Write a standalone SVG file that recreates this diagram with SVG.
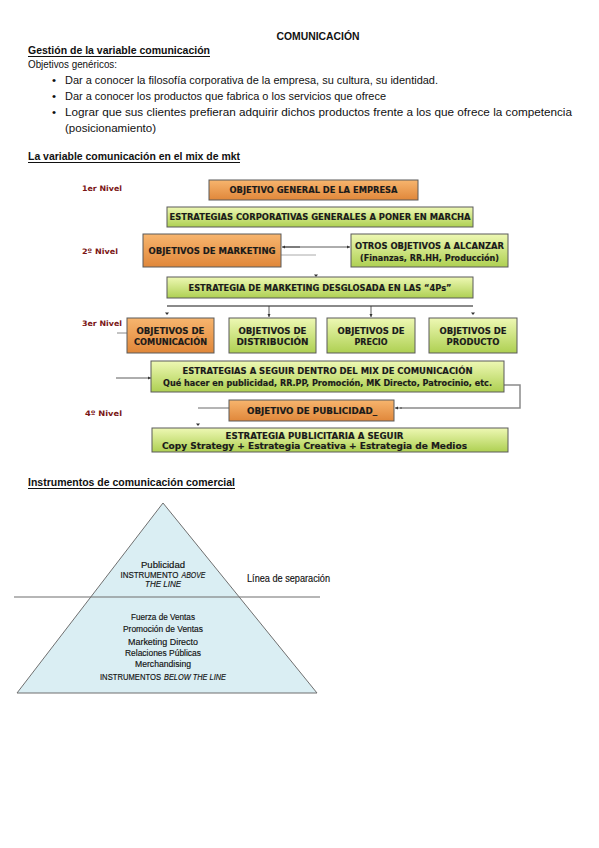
<svg xmlns="http://www.w3.org/2000/svg" width="599" height="848" viewBox="0 0 599 848">
<defs>
<linearGradient id="gO" x1="0" y1="0" x2="0" y2="1"><stop offset="0" stop-color="#f7b56e"/><stop offset="1" stop-color="#e0873a"/></linearGradient>
<linearGradient id="gG" x1="0" y1="0" x2="0" y2="1"><stop offset="0" stop-color="#eef8b4"/><stop offset="1" stop-color="#aed052"/></linearGradient>
<marker id="ah" viewBox="0 0 6 6" refX="6" refY="3" markerWidth="4" markerHeight="4" orient="auto"><path d="M0,0 L6,3 L0,6 z" fill="#333"/></marker>
</defs>
<style>
.t{font-family:"Liberation Sans",Arial,sans-serif;font-size:11.5px;fill:#111}
.b{font-weight:bold}
.bx{stroke:#5a5a5a;stroke-width:1}
.o{fill:url(#gO)}
.g{fill:url(#gG)}
.bt{font-family:"DejaVu Sans",Verdana,sans-serif;font-size:8px;font-weight:bold;fill:#1a1a1a;stroke:#1a1a1a;stroke-width:0.15;text-anchor:middle}
.lv{font-family:"DejaVu Sans",Verdana,sans-serif;font-size:7.5px;font-weight:bold;fill:#7a1515}
.ln{stroke:#333;stroke-width:0.8;fill:none}
.gl{stroke:#8a8a8a;stroke-width:1.5;fill:none}
.pt{font-family:"Liberation Sans",Arial,sans-serif;font-size:8.5px;fill:#111;stroke:#111;stroke-width:0.15;text-anchor:middle}
.ps{font-family:"Liberation Sans",Arial,sans-serif;font-size:8.5px;fill:#111;stroke:#111;stroke-width:0.15}
.i{font-style:italic}
</style>
<rect width="599" height="848" fill="#fff"/>
<g id="header">
<text class="t b" x="318" y="40" text-anchor="middle" textLength="83" lengthAdjust="spacingAndGlyphs">COMUNICACIÓN</text>
<text class="t b" x="28" y="54" textLength="182" lengthAdjust="spacingAndGlyphs">Gestión de la variable comunicación</text>
<line x1="28" y1="56.5" x2="210" y2="56.5" stroke="#111" stroke-width="1"/>
<text class="t" x="28" y="68" textLength="89" lengthAdjust="spacingAndGlyphs">Objetivos genéricos:</text>
<text class="t" x="52" y="84">•</text>
<text class="t" x="65" y="84" textLength="373" lengthAdjust="spacingAndGlyphs">Dar a conocer la filosofía corporativa de la empresa, su cultura, su identidad.</text>
<text class="t" x="52" y="100">•</text>
<text class="t" x="65" y="100" textLength="321" lengthAdjust="spacingAndGlyphs">Dar a conocer los productos que fabrica o los servicios que ofrece</text>
<text class="t" x="52" y="116">•</text>
<text class="t" x="65" y="116" textLength="507" lengthAdjust="spacingAndGlyphs">Lograr que sus clientes prefieran adquirir dichos productos frente a los que ofrece la competencia</text>
<text class="t" x="65" y="132" textLength="91" lengthAdjust="spacingAndGlyphs">(posicionamiento)</text>
<text class="t b" x="28" y="160" textLength="212" lengthAdjust="spacingAndGlyphs">La variable comunicación en el mix de mkt</text>
<line x1="28" y1="162.5" x2="240" y2="162.5" stroke="#111" stroke-width="1"/>
</g>
<g id="levels">
<text class="lv" x="82" y="191" textLength="40" lengthAdjust="spacingAndGlyphs">1er Nivel</text>
<text class="lv" x="82" y="254" textLength="36" lengthAdjust="spacingAndGlyphs">2º Nivel</text>
<text class="lv" x="82" y="326" textLength="40" lengthAdjust="spacingAndGlyphs">3er Nivel</text>
<text class="lv" x="85" y="416" textLength="37" lengthAdjust="spacingAndGlyphs">4º Nivel</text>
</g>
<g id="connectors">
<line class="ln" x1="284" y1="247" x2="350" y2="247" marker-end="url(#ah)"/>
<line class="ln" x1="300" y1="247" x2="282" y2="247" marker-end="url(#ah)"/>
<line x1="281" y1="255" x2="316" y2="255" stroke="#aaa" stroke-width="1"/>
<path d="M314,274.5 L318,274.5 L316,277 z" fill="#333"/>
<line x1="167" y1="306" x2="473" y2="306" stroke="#8a8a8a" stroke-width="2"/>
<line class="ln" x1="269" y1="306" x2="269" y2="317" marker-end="url(#ah)"/>
<line class="ln" x1="371" y1="306" x2="371" y2="317" marker-end="url(#ah)"/>
<path d="M165,312.5 L169,312.5 L167,315 z" fill="#333"/>
<path d="M471,312.5 L475,312.5 L473,315 z" fill="#333"/>
<line x1="117" y1="333" x2="127" y2="333" stroke="#888" stroke-width="1"/>
<line class="ln" x1="116" y1="378" x2="151" y2="378" marker-end="url(#ah)"/>
<polyline class="gl" points="504,385 520,385 520,408 400,408"/>
<line class="ln" x1="402" y1="408" x2="395" y2="408" marker-end="url(#ah)"/>
<line x1="198" y1="408" x2="229" y2="408" stroke="#444" stroke-width="0.8"/>
<path d="M196,423.5 L200,423.5 L198,426 z" fill="#333"/>
</g>
<g id="n1"><rect class="bx o" x="209" y="180" width="209" height="20"/><text class="bt" x="313.5" y="193" textLength="168" lengthAdjust="spacingAndGlyphs">OBJETIVO GENERAL DE LA EMPRESA</text></g>
<g id="n2"><rect class="bx g" x="167" y="207" width="306" height="20"/><text class="bt" x="320" y="220" textLength="301" lengthAdjust="spacingAndGlyphs">ESTRATEGIAS CORPORATIVAS GENERALES A PONER EN MARCHA</text></g>
<g id="n3"><rect class="bx o" x="143" y="234" width="138" height="33"/><text class="bt" x="212" y="254" textLength="127" lengthAdjust="spacingAndGlyphs">OBJETIVOS DE MARKETING</text></g>
<g id="n4"><rect class="bx g" x="351" y="234" width="157" height="33"/><text class="bt" x="429.5" y="249" textLength="149" lengthAdjust="spacingAndGlyphs">OTROS OBJETIVOS A ALCANZAR</text><text class="bt" x="429.5" y="261" textLength="139" lengthAdjust="spacingAndGlyphs">(Finanzas, RR.HH, Producción)</text></g>
<g id="n5"><rect class="bx g" x="167" y="277" width="306" height="21"/><text class="bt" x="320" y="291" textLength="263" lengthAdjust="spacingAndGlyphs">ESTRATEGIA DE MARKETING DESGLOSADA EN LAS “4Ps”</text></g>
<g id="n6"><rect class="bx o" x="127" y="318" width="87" height="35"/><text class="bt" x="170.5" y="334" textLength="68" lengthAdjust="spacingAndGlyphs">OBJETIVOS DE</text><text class="bt" x="170.5" y="345" textLength="73" lengthAdjust="spacingAndGlyphs">COMUNICACIÓN</text></g>
<g id="n7"><rect class="bx g" x="229" y="318" width="87" height="35"/><text class="bt" x="272.5" y="334" textLength="68" lengthAdjust="spacingAndGlyphs">OBJETIVOS DE</text><text class="bt" x="272.5" y="345" textLength="72" lengthAdjust="spacingAndGlyphs">DISTRIBUCIÓN</text></g>
<g id="n8"><rect class="bx g" x="327" y="318" width="88" height="35"/><text class="bt" x="371" y="334" textLength="67" lengthAdjust="spacingAndGlyphs">OBJETIVOS DE</text><text class="bt" x="371" y="345" textLength="33" lengthAdjust="spacingAndGlyphs">PRECIO</text></g>
<g id="n9"><rect class="bx g" x="429" y="318" width="88" height="35"/><text class="bt" x="473" y="334" textLength="67" lengthAdjust="spacingAndGlyphs">OBJETIVOS DE</text><text class="bt" x="473" y="345" textLength="53" lengthAdjust="spacingAndGlyphs">PRODUCTO</text></g>
<g id="n10"><rect class="bx g" x="151" y="361" width="353" height="31"/><text class="bt" x="327.5" y="374" textLength="290" lengthAdjust="spacingAndGlyphs">ESTRATEGIAS A SEGUIR DENTRO DEL MIX DE COMUNICACIÓN</text><text class="bt" x="327.5" y="385.5" textLength="329" lengthAdjust="spacingAndGlyphs">Qué hacer en publicidad, RR.PP, Promoción, MK Directo, Patrocinio, etc.</text></g>
<g id="n11"><rect class="bx o" x="229" y="400" width="165" height="21"/><text class="bt" x="312" y="414" textLength="130" lengthAdjust="spacingAndGlyphs">OBJETIVO DE PUBLICIDAD_</text></g>
<g id="n12"><rect class="bx g" x="152" y="428" width="356" height="24"/><text class="bt" x="314.5" y="438.5" textLength="178" lengthAdjust="spacingAndGlyphs">ESTRATEGIA PUBLICITARIA A SEGUIR</text><text class="bt" x="314.5" y="449" textLength="305" lengthAdjust="spacingAndGlyphs">Copy Strategy + Estrategia Creativa + Estrategia de Medios</text></g>
<g id="pyramid">
<text class="t b" x="28" y="486" textLength="207" lengthAdjust="spacingAndGlyphs">Instrumentos de comunicación comercial</text>
<line x1="28" y1="488.5" x2="235" y2="488.5" stroke="#111" stroke-width="1"/>
<polygon points="163,503 317,693 17,693" fill="#daeef3" stroke="#6f6f6f" stroke-width="1"/>
<line x1="14" y1="597" x2="320" y2="597" stroke="#6f6f6f" stroke-width="1.2"/>
<text class="pt" x="163" y="568" textLength="44" lengthAdjust="spacingAndGlyphs">Publicidad</text>
<text class="ps" x="120.5" y="577.5" textLength="58" lengthAdjust="spacingAndGlyphs">INSTRUMENTO</text>
<text class="ps i" x="181.5" y="577.5" textLength="24" lengthAdjust="spacingAndGlyphs">ABOVE</text>
<text class="pt i" x="163" y="587" textLength="36" lengthAdjust="spacingAndGlyphs">THE LINE</text>
<text class="pt" x="163" y="620" textLength="64" lengthAdjust="spacingAndGlyphs">Fuerza de Ventas</text>
<text class="pt" x="163" y="632" textLength="80" lengthAdjust="spacingAndGlyphs">Promoción de Ventas</text>
<text class="pt" x="163" y="645" textLength="70" lengthAdjust="spacingAndGlyphs">Marketing Directo</text>
<text class="pt" x="163" y="656" textLength="76" lengthAdjust="spacingAndGlyphs">Relaciones Públicas</text>
<text class="pt" x="163" y="667" textLength="56" lengthAdjust="spacingAndGlyphs">Merchandising</text>
<text class="ps" x="100" y="680" textLength="61" lengthAdjust="spacingAndGlyphs">INSTRUMENTOS</text>
<text class="ps i" x="164" y="680" textLength="62" lengthAdjust="spacingAndGlyphs">BELOW THE LINE</text>
<text x="247" y="582" font-family="Liberation Sans, Arial, sans-serif" font-size="10px" fill="#111" stroke="#111" stroke-width="0.15" textLength="83" lengthAdjust="spacingAndGlyphs">Línea de separación</text>
</g>
</svg>
